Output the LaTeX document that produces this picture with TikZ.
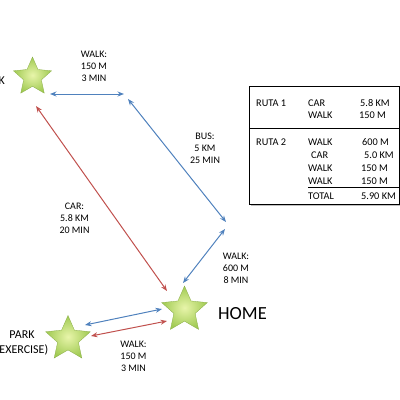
\documentclass[tikz,border=0pt]{standalone}
\usepackage{fontspec}
\setmainfont{Carlito}
\usetikzlibrary{arrows.meta,shapes.geometric}
\definecolor{walkblue}{RGB}{79,129,189}
\definecolor{carred}{RGB}{192,80,77}
\definecolor{starlight}{RGB}{232,245,170}
\definecolor{stardark}{RGB}{160,202,82}
\begin{document}
\begin{tikzpicture}[x=1pt,y=-1pt,>={Stealth[length=6.5pt,width=5pt]},
	place/.style={star,star points=5,star point ratio=2.15,inner sep=0pt,shading=radial,inner color=starlight,outer color=stardark,draw=stardark!85!black,line width=0.3pt},
	leg/.style={<->,line width=1pt},
	info/.style={align=center,inner sep=0pt,font=\fontsize{10}{12}\selectfont},
	cell/.style={anchor=west,inner sep=0pt,font=\fontsize{10.3}{12}\selectfont}]
	\useasboundingbox (0,0) rectangle (400,400);
	% places
	\node[place,minimum size=40pt] (work) at (32.5,77) {};
	\node[place,minimum size=48pt] (home) at (184.5,310) {};
	\node[place,minimum size=47pt] (park) at (68,339) {};
	\node[anchor=east,inner sep=0pt,font=\fontsize{12}{14}\selectfont] (worklbl) at (5,81) {WORK};
	\node[inner sep=0pt,font=\fontsize{18.5}{20}\selectfont] (homelbl) at (242.5,314) {HOME};
	\node[align=center,inner sep=0pt,font=\fontsize{12}{15}\selectfont] (parklbl) at (22,343) {PARK\\(EXERCISE)};
	% legs
	\coordinate (t1) at (50,94);  \coordinate (t2) at (124,94);
	\coordinate (b1) at (128,99); \coordinate (b2) at (226,222);
	\coordinate (w1) at (225,229); \coordinate (w2) at (183,283);
	\coordinate (c1) at (36,106); \coordinate (c2) at (167,291);
	\coordinate (p1) at (85,325); \coordinate (p2) at (162,309);
	\coordinate (p3) at (91,336); \coordinate (p4) at (167,321);
	\draw[leg,walkblue] (t1) -- (t2);
	\draw[leg,walkblue] (b1) -- (b2);
	\draw[leg,walkblue] (w1) -- (w2);
	\draw[leg,walkblue] (p1) -- (p2);
	\draw[leg,carred] (c1) -- (c2);
	\draw[leg,carred] (p3) -- (p4);
	\node[info] (walktop) at (94,66) {WALK:\\150 M\\3 MIN};
	\node[info] (bus) at (205,148) {BUS:\\5 KM\\25 MIN};
	\node[info] (car) at (74.5,218) {CAR:\\5.8 KM\\20 MIN};
	\node[info] (walkhome) at (236,268) {WALK:\\600 M\\8 MIN};
	\node[info] (walkpark) at (133.5,356) {WALK:\\150 M\\3 MIN};
	% table
	\fill[black!25] (250.5,88) rectangle (400,205.5);
	\draw[line width=1pt,fill=white] (249,86) rectangle (399,204);
	\draw[line width=1pt] (249,128) -- (399,128);
	\draw[line width=0.6pt] (308,187.5) -- (399,187.5);
	\node[cell] (ruta1) at (256,103) {RUTA 1};
	\node[cell] (ruta2) at (256,142) {RUTA 2};
	\foreach \mode/\dist/\y/\xa/\xb [count=\i] in {CAR/5.8 KM/103/308/360, WALK/150 M/115/308/359,
		WALK/600 M/142/308/362, CAR/5.0 KM/155/311/364, WALK/150 M/168/308/361,
		WALK/150 M/181/308/361, TOTAL/5.90 KM/196/308/361}
		{\node[cell] (mode\i) at (\xa,\y) {\mode};
		\node[cell] (dist\i) at (\xb,\y) {\dist};}
\end{tikzpicture}
\end{document}
